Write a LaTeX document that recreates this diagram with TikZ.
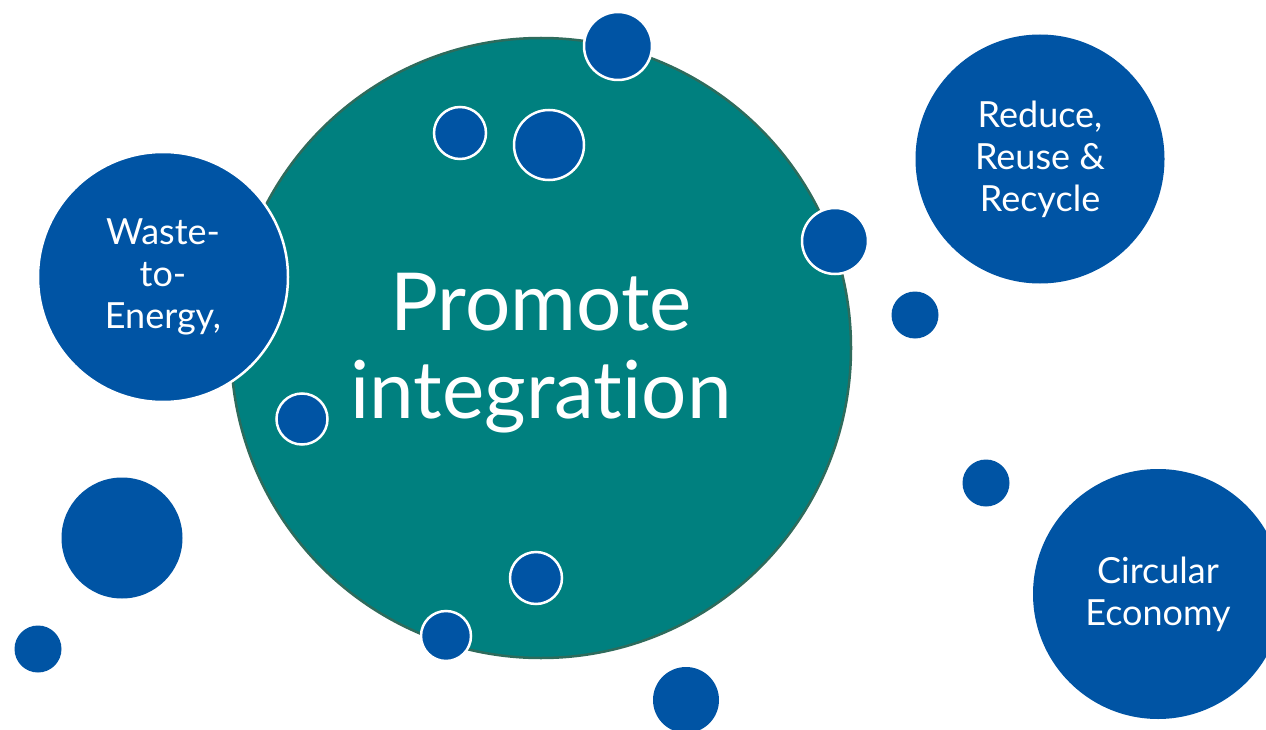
\documentclass[tikz,border=0pt]{standalone}
\usepackage{fontspec}
\setmainfont[Ligatures=NoCommon]{Lato}
\definecolor{bblue}{HTML}{0054A4}
\definecolor{tealc}{HTML}{00807F}
\definecolor{tealedge}{HTML}{2E6B5C}
\begin{document}
\begin{tikzpicture}[x=1pt,y=-1pt,
  bubble/.style={circle,fill=bblue,inner sep=0pt,text=white,align=center},
  ringed/.style={bubble,draw=white,line width=2.5pt},
  plain/.style={bubble,draw=none},
  smalltxt/.style={font=\fontsize{36}{42}\selectfont},
  bigtxt/.style={font=\fontsize{80}{88}\selectfont}]
\useasboundingbox[fill=white] (0,0) rectangle (1266,730);
% main circle
\node[circle,fill=tealc,draw=tealedge,line width=2.5pt,inner sep=0pt,minimum size=620pt] (main) at (541,348) {};
\node[text=white,align=center,bigtxt] (maintxt) at (541,353) {Promote\\integration};
% big labelled bubbles
\node[ringed,minimum size=250pt,smalltxt] (wte) at (163,277) {Waste-\\to-\\Energy,};
\node[plain,minimum size=249pt,smalltxt] (rrr) at (1040,159) {Reduce,\\Reuse \&\\Recycle};
\node[plain,minimum size=250pt,smalltxt] (ce) at (1158,594) {Circular\\Economy};
% small bubbles with white rings
\node[ringed,minimum size=68pt] (s1) at (618,46) {};
\node[ringed,minimum size=52pt] (s2) at (460,133) {};
\node[ringed,minimum size=70pt] (s3) at (549,145) {};
\node[ringed,minimum size=66pt] (s4) at (835,241) {};
\node[ringed,minimum size=51pt] (s5) at (302,419) {};
\node[ringed,minimum size=52pt] (s6) at (536,578) {};
\node[ringed,minimum size=50pt] (s7) at (446,636) {};
% small bubbles without rings
\node[plain,minimum size=47pt] (p1) at (915,315) {};
\node[plain,minimum size=47pt] (p2) at (986,483) {};
\node[plain,minimum size=121pt] (p3) at (122,538) {};
\node[plain,minimum size=47pt] (p4) at (38,649) {};
\node[plain,minimum size=66pt] (p5) at (686,700) {};
\end{tikzpicture}
\end{document}
